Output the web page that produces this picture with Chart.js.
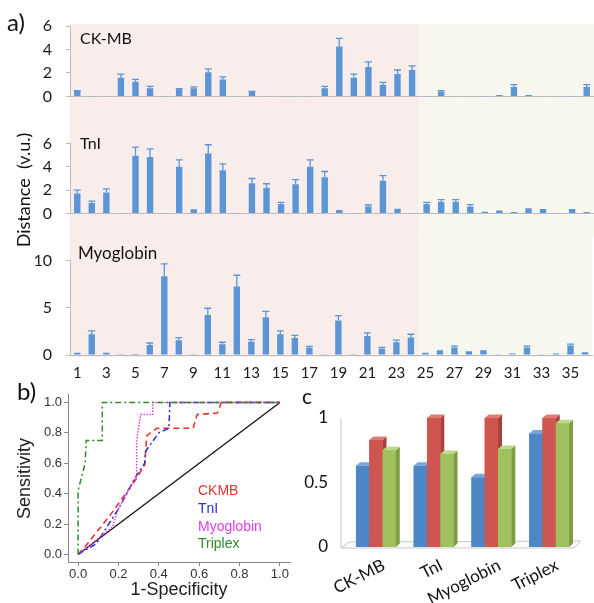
<!DOCTYPE html>
<html>
<head>
<meta charset="utf-8">
<script src="https://cdn.jsdelivr.net/npm/chart.js@4.4.0/dist/chart.umd.min.js"></script>
<style>
  body { margin: 0; background: #fff; }
  #wrap { position: relative; width: 594px; height: 603px; overflow: hidden; font-family: Lato, sans-serif; color: #111; }
  canvas { position: absolute; }
  .lbl { position: absolute; white-space: nowrap; line-height: 1; }
  .leg { font-family: "Liberation Sans", Arial, sans-serif; font-size: 14px; }
</style>
</head>
<body>
<div id="wrap">
  <canvas id="ckmbChart" width="594" height="120" style="left:0;top:0"></canvas>
  <canvas id="tniChart" width="594" height="117" style="left:0;top:120px"></canvas>
  <canvas id="myoChart" width="594" height="150" style="left:0;top:237px"></canvas>
  <canvas id="rocChart" width="300" height="218" style="left:0;top:385px"></canvas>
  <canvas id="sumChart" width="294" height="218" style="left:300px;top:385px"></canvas>

  <div class="lbl" style="left:7px;top:10px;font-size:24px">a)</div>
  <div class="lbl" style="left:17px;top:379px;font-size:24px">b)</div>
  <div class="lbl" style="left:302px;top:385px;font-size:21px">c</div>

  <div class="lbl" style="left:80px;top:30px;font-size:16px">CK-MB</div>
  <div class="lbl" style="left:80px;top:135px;font-size:16px">TnI</div>
  <div class="lbl" style="left:78px;top:244px;font-size:17px">Myoglobin</div>
  <div class="lbl" style="left:-57px;top:180px;width:160px;text-align:center;font-size:18px;line-height:20px;transform:rotate(-90deg)">Distance&nbsp; (v.u.)</div>

  <div class="lbl leg" style="left:198px;top:483px;color:#e8322b">CKMB</div>
  <div class="lbl leg" style="left:198px;top:501px;color:#2b2bd6">TnI</div>
  <div class="lbl leg" style="left:198px;top:519px;color:#e040e8">Myoglobin</div>
  <div class="lbl leg" style="left:198px;top:536px;color:#2e8b2e">Triplex</div>
</div>

<script>
// panel a: samples 1..36
const sampleLabels = ['1','2','3','4','5','6','7','8','9','10','11','12','13','14','15','16','17','18',
    '19','20','21','22','23','24','25','26','27','28','29','30','31','32','33','34','35','36'];

const ckmbValues = [0.45,0.02,0.02,1.6,1.25,0.7,0.02,0.6,0.7,2.05,1.45,0.02,0.38,0.02,0.02,0.02,0.02,0.7,
    4.25,1.6,2.5,1.0,1.9,2.25,0.02,0.4,0.02,0.02,0.02,0.12,0.8,0.12,0.02,0.02,0.02,0.8];
const ckmbErrors = [0.05,0,0,0.3,0.2,0.15,0,0.05,0.12,0.3,0.22,0,0.05,0,0,0,0,0.15,
    0.7,0.3,0.45,0.2,0.35,0.35,0,0.08,0,0,0,0,0.2,0,0,0,0,0.2];

const tniValues = [1.7,0.9,1.8,0.02,4.95,4.85,0.02,4.0,0.35,5.15,3.7,0.02,2.6,2.2,0.8,2.5,4.0,3.1,
    0.3,0.02,0.6,2.8,0.4,0.02,0.8,1.0,1.0,0.6,0.15,0.25,0.13,0.45,0.38,0.02,0.38,0.13];
const tniErrors = [0.3,0.15,0.3,0,0.75,0.7,0,0.6,0,0.75,0.55,0,0.4,0.35,0.15,0.4,0.6,0.5,
    0,0,0.12,0.45,0,0,0.15,0.18,0.18,0.15,0,0,0,0,0,0,0,0];

const myoValues = [0.25,2.2,0.25,0.03,0.1,1.05,8.35,1.55,0.03,4.25,1.15,7.25,1.4,4.0,2.2,1.8,0.75,0.03,
    3.65,0.03,2.0,0.65,1.35,1.85,0.25,0.5,0.8,0.4,0.5,0.03,0.15,0.8,0.03,0.15,1.0,0.3];
const myoErrors = [0,0.35,0,0,0,0.22,1.3,0.3,0,0.7,0.2,1.2,0.22,0.62,0.35,0.28,0.15,0,
    0.52,0,0.35,0.15,0.22,0.35,0,0,0.15,0,0,0,0,0.15,0,0,0.15,0];

// panel b: ROC curves
const rocTicks = [0, 0.2, 0.4, 0.6, 0.8, 1.0];
const ckmbFpr = [0, 0.04, 0.16, 0.29, 0.33, 0.34, 0.39, 0.57, 0.59, 0.69, 0.71, 1];
const ckmbTpr = [0, 0.06, 0.26, 0.50, 0.59, 0.78, 0.83, 0.83, 0.92, 0.93, 1, 1];
const tniFpr = [0, 0.09, 0.2, 0.29, 0.33, 0.335, 0.4, 0.45, 0.455, 1];
const tniTpr = [0, 0.07, 0.3, 0.52, 0.6, 0.68, 0.8, 0.83, 1, 1];
const myoFpr = [0, 0.17, 0.2, 0.29, 0.29, 0.31, 0.37, 0.37, 1];
const myoTpr = [0, 0.18, 0.3, 0.52, 0.75, 0.92, 0.92, 1, 1];
const triplexFpr = [0, 0, 0.035, 0.04, 0.12, 0.12, 1];
const triplexTpr = [0, 0.42, 0.6, 0.75, 0.75, 1, 1];
const chanceFpr = [0, 1];
const chanceTpr = [0, 1];

// panel c
const markerLabels = ['CK-MB', 'TnI', 'Myoglobin', 'Triplex'];
const seriesBlue = [0.63, 0.63, 0.54, 0.88];
const seriesRed = [0.83, 1.0, 1.0, 1.0];
const seriesGreen = [0.75, 0.72, 0.76, 0.96];

const barBlue = '#5b95d5';
const axisGrey = '#bdbdbd';

// nền hồng / xanh phía sau panel a
const zonePlugin = {
    id: 'zones',
    beforeDraw(chart, args, opts) {
        const { ctx, chartArea, scales: { x } } = chart;
        const split = (x.getPixelForValue(23) + x.getPixelForValue(24)) / 2;
        const top = opts.fromArea ? chartArea.top - 2 : 0;
        const bottom = opts.toArea ? chartArea.bottom + 2 : chart.height;
        ctx.save();
        ctx.fillStyle = '#f9edeb';
        ctx.fillRect(chartArea.left, top, split - chartArea.left, bottom - top);
        ctx.fillStyle = '#f7f7ef';
        ctx.fillRect(split, top, chartArea.right - split, bottom - top);
        ctx.restore();
    }
};

// error bar chỉ vẽ phía trên
const errorBarPlugin = {
    id: 'errorBars',
    afterDatasetsDraw(chart, args, opts) {
        const { ctx, scales: { y } } = chart;
        const meta = chart.getDatasetMeta(0);
        const values = chart.data.datasets[0].data;
        ctx.save();
        ctx.strokeStyle = barBlue;
        ctx.lineWidth = 1.3;
        meta.data.forEach((bar, i) => {
            const err = opts.errors[i];
            if (!err) return;
            const yTop = y.getPixelForValue(values[i] + err);
            ctx.beginPath();
            ctx.moveTo(bar.x, bar.y);
            ctx.lineTo(bar.x, yTop);
            ctx.moveTo(bar.x - 3.5, yTop);
            ctx.lineTo(bar.x + 3.5, yTop);
            ctx.stroke();
        });
        ctx.restore();
    }
};

function makeDistancePanel(id, values, errors, yMax, yStep, pad, xHeight, showX, zones) {
    new Chart(document.getElementById(id), {
        type: 'bar',
        data: {
            labels: sampleLabels,
            datasets: [{ data: values, backgroundColor: barBlue, barPercentage: 0.44, categoryPercentage: 1 }]
        },
        options: {
            responsive: false,
            animation: false,
            events: [],
            layout: { padding: { left: 10, right: 0, top: pad.top, bottom: pad.bottom } },
            plugins: {
                legend: { display: false },
                tooltip: { enabled: false },
                zones: zones,
                errorBars: { errors: errors }
            },
            scales: {
                x: {
                    grid: { display: false, drawTicks: false },
                    border: { color: axisGrey },
                    ticks: {
                        display: showX,
                        autoSkip: false,
                        maxRotation: 0,
                        padding: 9,
                        color: '#1a1a1a',
                        font: { family: 'Lato', size: 15 },
                        callback: (v, i) => (i % 2 === 0 ? sampleLabels[i] : '')
                    },
                    afterFit: (s) => { s.height = xHeight; }
                },
                y: {
                    min: 0,
                    max: yMax,
                    ticks: { stepSize: yStep, padding: 14, color: '#1a1a1a', font: { family: 'Lato', size: 16 } },
                    grid: { display: true, drawOnChartArea: false, drawTicks: true, tickLength: 4, color: axisGrey },
                    border: { color: axisGrey },
                    afterFit: (s) => { s.width = 60; }
                }
            }
        },
        plugins: [zonePlugin, errorBarPlugin]
    });
}

makeDistancePanel('ckmbChart', ckmbValues, ckmbErrors, 6, 2, { top: 26, bottom: 4 }, 0, false, { fromArea: true, toArea: false });
makeDistancePanel('tniChart', tniValues, tniErrors, 6, 2, { top: 23, bottom: 4 }, 0, false, { fromArea: false, toArea: false });
makeDistancePanel('myoChart', myoValues, myoErrors, 10, 5, { top: 21, bottom: 5 }, 27, true, { fromArea: false, toArea: true });

// ROC
const toPoints = (xs, ys) => xs.map((v, i) => ({ x: v, y: ys[i] }));
const rocLine = (data, color, dash, width) => ({
    data: data, showLine: true, borderColor: color, borderDash: dash, borderWidth: width,
    pointRadius: 0, fill: false, tension: 0
});
const rocFont = { family: 'Liberation Sans', size: 13 };

new Chart(document.getElementById('rocChart'), {
    type: 'scatter',
    data: {
        datasets: [
            rocLine(toPoints(triplexFpr, triplexTpr), '#2e8b2e', [6, 3, 2, 3], 1.5),
            rocLine(toPoints(myoFpr, myoTpr), '#e040e8', [1.5, 1.5], 1.5),
            rocLine(toPoints(tniFpr, tniTpr), '#2b2bd6', [6, 3, 2, 3], 1.5),
            rocLine(toPoints(ckmbFpr, ckmbTpr), '#e8322b', [6, 4], 1.6),
            rocLine(toPoints(chanceFpr, chanceTpr), '#111111', [], 1.3)
        ]
    },
    options: {
        responsive: false,
        animation: false,
        events: [],
        layout: { padding: { left: 10, right: 10, top: 8, bottom: 0 } },
        plugins: { legend: { display: false }, tooltip: { enabled: false } },
        scales: {
            x: {
                type: 'linear', min: -0.05, max: 1.05,
                afterBuildTicks: (s) => { s.ticks = rocTicks.map(v => ({ value: v })); },
                ticks: { padding: 1, color: '#333', font: rocFont, callback: v => v.toFixed(1) },
                grid: { display: true, drawOnChartArea: false, tickLength: 4, color: '#888' },
                border: { color: '#888' },
                title: { display: true, text: '1-Specificity', color: '#222', padding: { top: 4, bottom: 2 }, font: { family: 'Liberation Sans', size: 18 } },
                afterFit: (s) => { s.height = 41; }
            },
            y: {
                type: 'linear', min: -0.05, max: 1.05,
                afterBuildTicks: (s) => { s.ticks = rocTicks.map(v => ({ value: v })); },
                ticks: { padding: 2, color: '#333', font: rocFont, callback: v => v.toFixed(1) },
                grid: { display: true, drawOnChartArea: false, tickLength: 4, color: '#888' },
                border: { color: '#888' },
                title: { display: true, text: 'Sensitivity', color: '#222', font: { family: 'Liberation Sans', size: 18 } },
                afterFit: (s) => { s.width = 58; }
            }
        }
    }
});

// panel c: cột giả 3D
const faceColors = [
    { front: '#4f86c6', top: '#7aa6dc', side: '#3a6aa3' },
    { front: '#cf5650', top: '#e07b74', side: '#a8403b' },
    { front: '#9fc25e', top: '#bcd88a', side: '#7e9c45' }
];
const depthX = 4, depthY = 3.5;

const box3dPlugin = {
    id: 'box3d',
    beforeDatasetsDraw(chart) {
        const { ctx, chartArea, scales: { y } } = chart;
        const base = y.getPixelForValue(0);
        const wallX = chartArea.left - 6;
        ctx.save();
        ctx.strokeStyle = '#c8c8c8';
        ctx.fillStyle = '#fbfbfb';
        ctx.lineWidth = 1;
        ctx.beginPath();
        ctx.moveTo(wallX, base + 1);
        ctx.lineTo(wallX + 8, base - 5);
        ctx.lineTo(chartArea.right + 3, base - 6);
        ctx.lineTo(chartArea.right - 4, base + 1);
        ctx.closePath();
        ctx.fill();
        ctx.stroke();
        ctx.beginPath();
        ctx.moveTo(wallX, base + 1);
        ctx.lineTo(wallX, y.getPixelForValue(1));
        ctx.stroke();
        ctx.restore();
    },
    afterDatasetsDraw(chart) {
        const { ctx } = chart;
        ctx.save();
        chart.data.datasets.forEach((ds, di) => {
            const c = faceColors[di];
            chart.getDatasetMeta(di).data.forEach((bar) => {
                const { x, y, base, width } = bar.getProps(['x', 'y', 'base', 'width'], true);
                const l = x - width / 2, r = x + width / 2;
                ctx.fillStyle = c.front;
                ctx.fillRect(l, y, width, base - y);
                ctx.fillStyle = c.side;
                ctx.beginPath();
                ctx.moveTo(r, y); ctx.lineTo(r + depthX, y - depthY);
                ctx.lineTo(r + depthX, base - depthY); ctx.lineTo(r, base);
                ctx.closePath(); ctx.fill();
                ctx.fillStyle = c.top;
                ctx.beginPath();
                ctx.moveTo(l, y); ctx.lineTo(l + depthX, y - depthY);
                ctx.lineTo(r + depthX, y - depthY); ctx.lineTo(r, y);
                ctx.closePath(); ctx.fill();
            });
        });
        ctx.restore();
    }
};

new Chart(document.getElementById('sumChart'), {
    type: 'bar',
    data: {
        labels: markerLabels,
        datasets: [
            { data: seriesBlue, backgroundColor: faceColors[0].front },
            { data: seriesRed, backgroundColor: faceColors[1].front },
            { data: seriesGreen, backgroundColor: faceColors[2].front }
        ]
    },
    options: {
        responsive: false,
        animation: false,
        events: [],
        datasets: { bar: { barPercentage: 1, categoryPercentage: 0.69 } },
        layout: { padding: { left: 0, right: 16, top: 33, bottom: 0 } },
        plugins: { legend: { display: false }, tooltip: { enabled: false } },
        scales: {
            x: {
                grid: { display: false, drawTicks: false },
                border: { display: false },
                ticks: { minRotation: 27, maxRotation: 27, padding: 8, labelOffset: 8, color: '#111', font: { family: 'Lato', size: 17 } },
                afterFit: (s) => { s.height = 56; }
            },
            y: {
                min: 0, max: 1,
                ticks: { stepSize: 0.5, padding: 19, color: '#111', font: { family: 'Lato', size: 17 }, callback: v => String(v) },
                grid: { display: false, drawTicks: false },
                border: { display: false },
                afterFit: (s) => { s.width = 47; }
            }
        }
    },
    plugins: [box3dPlugin]
});
</script>
</body>
</html>
